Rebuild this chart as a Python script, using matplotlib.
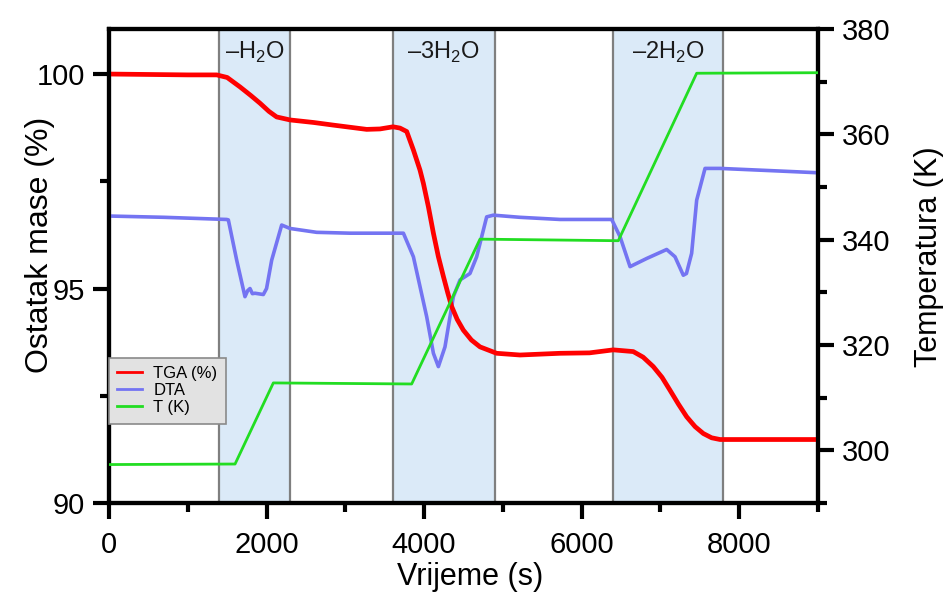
import matplotlib
matplotlib.use("Agg")
import matplotlib.pyplot as plt
from matplotlib.ticker import MultipleLocator

plt.rcParams['font.family'] = ['Liberation Sans', 'DejaVu Sans']
plt.rcParams['mathtext.fontset'] = 'custom'
plt.rcParams['mathtext.rm'] = 'Liberation Sans'

# TGA (%)
tga_time = [0, 500, 1000, 1367, 1500, 1663, 1800, 1917, 2030, 2128, 2298, 2600, 2845, 3271,
            3440, 3606, 3694, 3779, 3864, 3948, 3991, 4055, 4118, 4180, 4245, 4300, 4350,
            4420, 4498, 4600, 4709, 4921, 5217, 5725, 6100, 6401, 6655, 6780, 6909, 7020,
            7121, 7230, 7333, 7440, 7544, 7650, 7756, 8200, 9000]
tga_mass = [100.0, 99.99, 99.98, 99.98, 99.92, 99.7, 99.5, 99.32, 99.13, 99.0, 98.93, 98.87,
            98.81, 98.71, 98.72, 98.77, 98.74, 98.66, 98.23, 97.76, 97.45, 96.9, 96.29, 95.75,
            95.28, 94.9, 94.58, 94.28, 94.03, 93.8, 93.64, 93.49, 93.45, 93.49, 93.5, 93.57,
            93.53, 93.4, 93.18, 92.93, 92.63, 92.3, 92.01, 91.78, 91.62, 91.52, 91.48, 91.48,
            91.48]

# DTA signal (arbitrary units, drawn on the mass scale)
dta_time = [0, 700, 1494, 1515, 1621, 1726, 1760, 1790, 1820, 1853, 1959, 2000, 2065, 2192,
            2298, 2636, 3059, 3737, 3864, 4033, 4118, 4181, 4265, 4371, 4456, 4582, 4667,
            4794, 4879, 5217, 5725, 6381, 6487, 6614, 6825, 7079, 7185, 7290, 7330, 7396,
            7460, 7566, 7756, 8500, 8983]
dta_signal = [96.69, 96.66, 96.61, 96.6, 95.66, 94.81, 94.95, 95.0, 94.88, 94.89, 94.86, 95.0,
              95.66, 96.48, 96.40, 96.31, 96.29, 96.29, 95.74, 94.34, 93.49, 93.18, 93.64,
              94.81, 95.2, 95.35, 95.74, 96.67, 96.71, 96.66, 96.61, 96.61, 96.21, 95.51,
              95.70, 95.91, 95.74, 95.31, 95.35, 95.82, 97.06, 97.80, 97.8, 97.74, 97.70]

# Temperature (K)
temp_time = [0, 1600, 2086, 3842, 4709, 6465, 7460, 9000]
temp_k = [297.3, 297.4, 312.8, 312.6, 340.1, 339.8, 371.6, 371.7]

# Dehydration steps
step_start = [1400, 3600, 6400]
step_end = [2300, 4900, 7800]
step_labels = ['–H$_2$O', '–3H$_2$O', '–2H$_2$O']

series_names = ['TGA (%)', 'DTA', 'T (K)']

fig = plt.figure(figsize=(9.49, 5.98), dpi=100)
fig.patch.set_facecolor('white')
ax = fig.add_axes([109/949, 1-503/598, (818-109)/949, (503-29)/598])
ax2 = ax.twinx()

for s, e, lab in zip(step_start, step_end, step_labels):
    ax.axvspan(s, e, facecolor='#dbeaf8', edgecolor='#7f7f7f', linewidth=1.6, zorder=0)
    ax.text((s + e) / 2, 0.95, lab, transform=ax.get_xaxis_transform(),
            ha='center', va='center', fontsize=17, color='#1a1a1a', zorder=1)

l_dta, = ax.plot(dta_time, dta_signal, color='#7474f2', lw=2.6, zorder=3)
l_tga, = ax.plot(tga_time, tga_mass, color='#ff0000', lw=3.4, zorder=4)
l_t, = ax2.plot(temp_time, temp_k, color='#22dd22', lw=2.0, zorder=3)

ax.set_xlim(0, 9000)
ax.set_ylim(90, 101.05)
ax2.set_ylim(290, 380)

ax.xaxis.set_major_locator(MultipleLocator(2000))
ax.xaxis.set_minor_locator(MultipleLocator(1000))
ax.yaxis.set_major_locator(MultipleLocator(5))
ax.yaxis.set_minor_locator(MultipleLocator(2.5))
ax2.yaxis.set_major_locator(MultipleLocator(20))
ax2.yaxis.set_minor_locator(MultipleLocator(10))

for a in (ax, ax2):
    for sp in a.spines.values():
        sp.set_linewidth(3.0)
    a.tick_params(which='major', direction='out', length=11.5, width=3.0, labelsize=21, pad=6)
    a.tick_params(which='minor', direction='out', length=6.5, width=3.0)
ax.tick_params(axis='x', which='major', pad=9)

ax.set_xlabel('Vrijeme (s)', fontsize=22)
ax.xaxis.set_label_coords(0.509, -0.124)
ax.set_ylabel('Ostatak mase (%)', fontsize=23, va='center')
ax.yaxis.set_label_coords(-0.097, 0.545)
ax2.set_ylabel('Temperatura (K)', fontsize=22, va='center')
ax2.yaxis.set_label_coords(1.157, 0.52)

leg = ax2.legend([l_tga, l_dta, l_t], series_names, loc='upper left',
                 bbox_to_anchor=(0, 0.306), borderaxespad=0, fontsize=12,
                 frameon=True, fancybox=False, framealpha=1, facecolor='#e2e2e2',
                 edgecolor='#8a8a8a', handlelength=1.5, handletextpad=0.65,
                 labelspacing=0.12, borderpad=0.5)
leg.get_frame().set_linewidth(1.2)
for line in leg.get_lines():
    line.set_linewidth(2.0)

fig.savefig('out.png', dpi=100)
